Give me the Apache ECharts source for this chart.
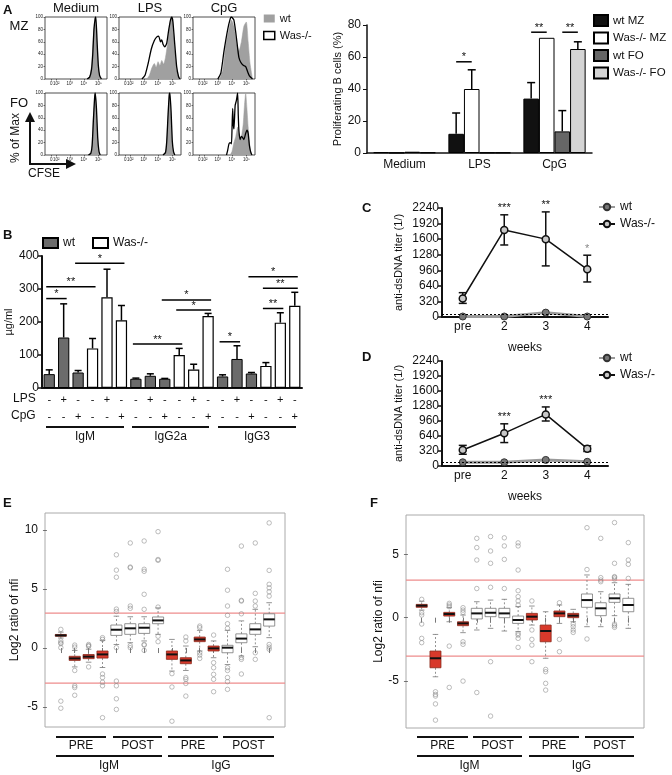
<!DOCTYPE html>
<html><head><meta charset="utf-8">
<script src="https://cdn.jsdelivr.net/npm/echarts@6/dist/echarts.min.js"></script>
<style>html,body{margin:0;padding:0;background:#fff}#c{width:672px;height:775px}</style>
</head><body><div id="c"></div>
<script>
// ---------- Panel A: CFSE histograms ([position %, % of max]) ----------
const histTicks = [10, 18, 40, 63, 86];
const histTickLabels = ['0', '10²', '10³', '10⁴', '10⁵'];
const histCols = ['Medium', 'LPS', 'CpG'];
const histRows = ['MZ', 'FO'];
const medMZ_wt = [[68,0],[72,4],[75,20],[77,50],[79,85],[81,100],[83,80],[85,40],[87,12],[89,3],[91,0]];
const medMZ_ko = [[68,0],[72,3],[75,15],[77,40],[79,80],[81,98],[82,100],[84,60],[86,22],[88,6],[91,0]];
const lpsMZ_wt = [[45,0],[49,6],[53,18],[57,25],[60,19],[63,28],[66,22],[69,30],[72,24],[75,35],[78,55],[81,82],[84,98],[86,100],[88,75],[91,35],[94,10],[97,0]];
const lpsMZ_ko = [[37,0],[42,6],[47,25],[52,48],[57,62],[61,68],[64,69],[67,60],[69,63],[71,56],[74,52],[77,58],[80,78],[83,95],[85,100],[87,92],[90,55],[93,20],[96,4],[98,0]];
const cpgMZ_wt = [[43,0],[48,15],[53,55],[59,85],[62,95],[66,85],[71,55],[74,45],[78,60],[82,85],[86,92],[89,60],[92,25],[96,0]];
const cpgMZ_ko = [[40,0],[45,10],[50,45],[56,80],[60,97],[62,100],[64,98],[66,95],[69,75],[72,50],[74,35],[77,27],[81,22],[85,20],[88,12],[91,5],[96,0]];
const medFO_wt = [[70,0],[74,4],[76,20],[78,60],[80,95],[81,100],[83,70],[85,25],[87,5],[89,0]];
const medFO_ko = [[70,0],[74,3],[76,15],[78,55],[80,92],[81,100],[83,75],[85,28],[87,6],[89,0]];
const lpsFO_wt = [[71,0],[75,5],[77,25],[79,65],[81,95],[82,100],[84,65],[86,20],[88,4],[90,0]];
const lpsFO_ko = [[71,0],[75,4],[77,22],[79,62],[81,97],[82,100],[84,70],[86,22],[88,5],[90,0]];
const cpgFO_wt = [[60,0],[63,6],[66,20],[69,30],[72,45],[74,35],[77,25],[79,35],[81,50],[83,80],[85,100],[87,75],[89,45],[91,20],[93,6],[95,0]];
const cpgFO_ko = [[54,0],[56,8],[58,18],[60,20],[62,18],[63,45],[64,75],[65,50],[66,42],[68,80],[70,88],[72,100],[73,65],[74,40],[76,25],[78,30],[80,28],[82,25],[85,35],[87,40],[89,35],[91,15],[93,5],[95,0]];

// ---------- Panel A: proliferating B cells (%) ----------
const aCats = ['Medium', 'LPS', 'CpG'];
const aWtMZ = [0.5, 12, 34],   aWtMZHi = [0.5, 25, 44];
const aKoMZ = [0.2, 40, 72],   aKoMZHi = [0.2, 52, 72];
const aWtFO = [0.8, 0.3, 13.5], aWtFOHi = [0.8, 0.3, 26.5];
const aKoFO = [0.4, 0.3, 65],  aKoFOHi = [0.4, 0.3, 69.5];
const aSig = [[1, 57, 0, 1], [2, 75.5, 0, 1], [2, 75.5, 2, 3]]; // [category, level, fromBar, toBar]
const aSigText = ['*', '**', '**'];

// ---------- Panel B: Ig secretion (µg/ml) ----------
const bIsotypes = ['IgM', 'IgG2a', 'IgG3'];
const bLps = ['-', '+', '-', '-', '+', '-'];
const bCpg = ['-', '-', '+', '-', '-', '+'];
const igmWt = [42, 153, 47],   igmWtHi = [55, 255, 53];
const igmKo = [120, 275, 205], igmKoHi = [150, 360, 250];
const igg2aWt = [28, 37, 28],  igg2aWtHi = [30, 43, 29];
const igg2aKo = [100, 56, 218], igg2aKoHi = [120, 72, 226];
const igg3Wt = [35, 88, 44],   igg3WtHi = [40, 128, 47];
const igg3Ko = [67, 198, 249], igg3KoHi = [77, 228, 290];
const bSig = [[0, 271, 1], [0, 307, 3], [2, 378, 5], [6, 133, 9], [8, 267, 11], [9, 236, 11], [12, 140, 13], [14, 337, 17], [15, 302, 17], [15, 241, 16]];
const bSigText = ['*', '**', '*', '**', '*', '*', '*', '*', '**', '**'];

// ---------- Panels C, D: anti-dsDNA titer ----------
const weeks = ['pre', '2', '3', '4'];
const cKo = [380, 1790, 1600, 980], cKoLo = [280, 1480, 1050, 720], cKoHi = [500, 2100, 2160, 1270];
const cWt = [10, 10, 90, 10];
const cStars = ['', '***', '**', '*'];
const cDetect = 60;
const dKo = [340, 700, 1100, 370], dKoLo = [250, 500, 960, 310], dKoHi = [440, 900, 1260, 430];
const dWt = [80, 80, 130, 90];
const dStars = ['', '***', '***', ''];
const dDetect = 85;

// ---------- Panels E, F: Log2 ratio of nfi boxplots ----------
const boxPhase = ['PRE','PRE','PRE','PRE','POST','POST','POST','POST','PRE','PRE','PRE','PRE','POST','POST','POST','POST'];
const boxIsotype = ['IgM','IgM','IgM','IgM','IgM','IgM','IgM','IgM','IgG','IgG','IgG','IgG','IgG','IgG','IgG','IgG'];
// [lower whisker, Q1, median, Q3, upper whisker]
const eBoxes = [
  [0.85, 1.0, 1.07, 1.15, 1.35], [-1.6, -1.05, -0.88, -0.7, -0.2], [-1.2, -0.9, -0.73, -0.55, -0.1], [-1.65, -0.85, -0.54, -0.25, 0.65],
  [0.3, 1.07, 1.55, 1.95, 2.7], [0.45, 1.16, 1.67, 2.06, 2.65], [0.6, 1.24, 1.72, 2.06, 2.65], [1.16, 2.06, 2.34, 2.63, 3.4],
  [-1.95, -0.96, -0.54, -0.25, 0.73], [-1.9, -1.33, -1.05, -0.82, 0.17], [-0.25, 0.54, 0.73, 0.93, 1.5], [-0.82, -0.25, -0.03, 0.17, 0.6],
  [-1.4, -0.4, 0.03, 0.23, 1.5], [-0.68, 0.45, 0.8, 1.2, 2.3], [0.11, 1.16, 1.58, 2.06, 3.28], [0.88, 1.86, 2.43, 2.9, 3.84]
];
const eOutliers = [
  [1.58, 0.6, 0.45, 0.37, 0.03, -4.5, -5.1], [0.25, 0.08, -1.9, -3.2, -3.35, -4.0], [0.3, 0.2, 0.15, -1.6], [0.88, 0.73, -2.2, -2.5, -2.9, -3.2, -5.9],
  [7.9, 6.6, 6.0, 3.3, 3.1, 0.03, -2.8, -3.2, -4.3, -5.2], [8.9, 6.86, 6.8, 3.56, 3.36, 0.2, 0.03], [9.07, 6.67, 6.5, 4.55, 3.28, 0.3, 0.25, -0.2], [9.86, 7.5, 7.43, 3.47, 1.0, 0.54],
  [-2.17, -3.3, -6.2], [0.93, 0.6, -2.5, -2.65, -3.0, -4.07], [1.86, 1.72, -0.4, -0.6, -0.88], [1.1, -1.24, -1.67, -2.23, -2.65, -3.7],
  [6.67, 4.9, 3.56, 2.77, 2.06, 1.67, -1.67, -1.9, -2.5, -2.85, -3.5], [8.64, 4.04, 3.98, 2.9, -0.8, -0.96, -2.2], [8.9, 4.63, 3.98, 3.56, -0.4, -0.96], [10.6, 6.58, 5.4, 5.1, 4.77, 4.4, 0.3, 0.08, -0.1, -5.9]
];
const fBoxes = [
  [0.6, 0.82, 0.95, 1.05, 1.3], [-4.66, -3.95, -3.2, -2.63, -1.32], [-0.32, 0.13, 0.29, 0.42, 0.79], [-1.18, -0.63, -0.45, -0.32, 0.21],
  [-0.97, -0.1, 0.34, 0.74, 1.26], [-0.84, 0.08, 0.39, 0.74, 1.39], [-1.05, 0, 0.34, 0.74, 1.45], [-1.1, -0.45, -0.18, 0.13, 0.87],
  [-0.58, -0.18, 0.08, 0.34, 0.92], [-3.2, -1.9, -1.05, -0.58, 0.47], [-0.45, 0.08, 0.34, 0.53, 1.0], [-0.32, 0, 0.16, 0.34, 0.66],
  [-0.71, 0.82, 1.39, 1.87, 3.37], [-0.71, 0.16, 0.74, 1.18, 2.05], [0.16, 1.21, 1.53, 1.87, 2.76], [-0.84, 0.47, 1.0, 1.53, 2.63]
];
const fOutliers = [
  [1.45, 0.39, 0.21, -0.5, -1.63, -1.97], [-5.84, -6.05, -6.18, -6.8, -8.08], [1.13, 1.0, 0.87, -2.24, -5.5], [0.79, 0.6, 0.42, -1.9, -2.1, -5.0],
  [6.26, 5.53, 4.55, 2.3, -5.9], [6.4, 5.26, 4.29, 2.4, -3.47, -7.76], [6.3, 5.66, 4.6, 2.3], [5.9, 5.66, 3.76, 2.13, 1.66, 1.32, 1.0, -1.24, -1.37, -1.63, -2.34],
  [1.32, -0.97, -1.71, -2.16, -3.47], [-4.08, -4.26, -5.18, -5.71], [1.18, -1.71, -2.68], [-0.5, -0.71, -0.97, -1.16],
  [7.1, 3.8, -1.68], [6.26, 3.16, 2.97, 2.84], [7.5, 4.29, 3.24, 3.18, 3.05, -0.5, -0.63, -0.76], [5.92, 4.55, 4.21, 3.1]
];
const cutoffs = [3, -3];

// =====================================================================
const FONT = '"Liberation Sans", Arial, sans-serif';
const option = { animation: false, textStyle: { fontFamily: FONT, color: '#111' }, grid: [], xAxis: [], yAxis: [], series: [], legend: [], graphic: [] };
const stripName = n => n.split('#')[0];
const plain = v => String(v);
const txt = (x, y, t, o) => Object.assign({ type: 'text', x, y, style: Object.assign({ text: t, fill: '#111', font: '12px ' + FONT, align: 'center', verticalAlign: 'middle' }, (o || {}).style || {}) }, o && o.rotation ? { rotation: o.rotation } : {});
const seg = (x1, y1, x2, y2, w) => ({ type: 'line', shape: { x1, y1, x2, y2 }, style: { stroke: '#111', lineWidth: w || 2 } });

// ---- A histograms: grids 0..5
const histData = [[medMZ_wt, medMZ_ko], [lpsMZ_wt, lpsMZ_ko], [cpgMZ_wt, cpgMZ_ko], [medFO_wt, medFO_ko], [lpsFO_wt, lpsFO_ko], [cpgFO_wt, cpgFO_ko]];
histData.forEach((d, i) => {
  const r = Math.floor(i / 3), c = i % 3;
  option.grid.push({ left: [45, 119, 193][c], top: [17, 93][r], width: 62, height: 62, show: true, borderColor: '#222', borderWidth: 0.8 });
  option.xAxis.push({ type: 'value', gridIndex: i, min: 0, max: 100, axisLine: { show: false }, splitLine: { show: false },
    axisTick: { customValues: histTicks, length: 1.5, lineStyle: { color: '#222', width: 0.6 } },
    axisLabel: { customValues: histTicks, formatter: v => histTickLabels[histTicks.indexOf(v)], fontSize: 4.5, margin: 2, color: '#222' } });
  option.yAxis.push({ type: 'value', gridIndex: i, min: 0, max: 100, interval: 20, axisLine: { show: false }, splitLine: { show: false },
    axisTick: { show: true, length: 1.5, lineStyle: { color: '#222', width: 0.6 } }, axisLabel: { fontSize: 4.5, margin: 2, color: '#222' } });
  option.series.push({ type: 'line', name: 'wt#h', xAxisIndex: i, yAxisIndex: i, data: d[0], symbol: 'none', smooth: 0.2,
    lineStyle: { width: 0.5, color: '#a0a0a0' }, itemStyle: { color: '#a0a0a0' }, areaStyle: { color: '#a0a0a0', opacity: 1 }, z: 2 });
  option.series.push({ type: 'line', name: 'Was-/-#h', xAxisIndex: i, yAxisIndex: i, data: d[1], symbol: 'none', smooth: 0.2,
    lineStyle: { width: 1.3, color: '#000' }, itemStyle: { color: '#000' }, z: 3 });
});
option.legend.push({ left: 263, top: 13, orient: 'vertical', padding: 0, itemWidth: 11, itemHeight: 8, itemGap: 6, formatter: stripName,
  textStyle: { fontSize: 11, color: '#111' },
  data: [{ name: 'wt#h', icon: 'rect', itemStyle: { color: '#a0a0a0', borderWidth: 0 } },
         { name: 'Was-/-#h', icon: 'rect', itemStyle: { color: '#fff', borderColor: '#000', borderWidth: 1.5 } }] });

// ---- A bar chart: grid 6
const GA = 6;
option.grid.push({ left: 367, top: 25, width: 225, height: 128 });
option.xAxis.push({ type: 'category', gridIndex: GA, data: aCats, axisLine: { lineStyle: { color: '#111', width: 1.5 } }, axisTick: { show: false },
  axisLabel: { fontSize: 12, margin: 6, color: '#111' } });
option.yAxis.push({ type: 'value', gridIndex: GA, min: 0, max: 80, interval: 20, splitLine: { show: false },
  axisLine: { show: true, lineStyle: { color: '#111', width: 1.5 } }, axisTick: { show: true, length: 4, lineStyle: { color: '#111' } },
  axisLabel: { fontSize: 12, margin: 6, color: '#111' }, name: 'Proliferating B cells (%)', nameLocation: 'middle', nameGap: 22, nameTextStyle: { fontSize: 11, color: '#111' } });
const aSeries = [['wt MZ', aWtMZ, aWtMZHi, '#111'], ['Was-/- MZ', aKoMZ, aKoMZHi, '#fff'], ['wt FO', aWtFO, aWtFOHi, '#666'], ['Was-/- FO', aKoFO, aKoFOHi, '#d4d4d4']];
const aGap = 0.17;
const aOffset = (api, k) => { const band = api.size([1, 0])[0]; const gw = band * (1 - aGap); return -gw / 2 + (k + 0.5) * gw / 4; };
aSeries.forEach((s, k) => {
  option.series.push({ type: 'bar', name: s[0], xAxisIndex: GA, yAxisIndex: GA, data: s[1], barGap: 0, barCategoryGap: (aGap * 100) + '%',
    itemStyle: { color: s[3], borderColor: '#000', borderWidth: 1 }, z: 3 });
  option.series.push({ type: 'custom', xAxisIndex: GA, yAxisIndex: GA, data: s[1].map((v, i) => [i, v, s[2][i]]), z: 2,
    renderItem: (p, api) => {
      const v = api.value(1), hi = api.value(2); if (hi <= v) return null;
      const a = api.coord([api.value(0), v]), b = api.coord([api.value(0), hi]); const x = a[0] + aOffset(api, k);
      return { type: 'group', children: [
        { type: 'line', shape: { x1: x, y1: a[1], x2: x, y2: b[1] }, style: { stroke: '#000', lineWidth: 1.5 } },
        { type: 'line', shape: { x1: x - 4, y1: b[1], x2: x + 4, y2: b[1] }, style: { stroke: '#000', lineWidth: 1.5 } }] };
    } });
});
option.series.push({ type: 'custom', xAxisIndex: GA, yAxisIndex: GA, data: aSig, z: 4,
  renderItem: (p, api) => {
    const c = api.value(0), y = api.value(1); const base = api.coord([c, y]);
    const x1 = base[0] + aOffset(api, api.value(2)), x2 = base[0] + aOffset(api, api.value(3));
    return { type: 'group', children: [
      { type: 'line', shape: { x1, y1: base[1], x2, y2: base[1] }, style: { stroke: '#000', lineWidth: 1.5 } },
      { type: 'text', x: (x1 + x2) / 2, y: base[1] + 1, style: { text: aSigText[p.dataIndex], font: '11px ' + FONT, fill: '#111', align: 'center', verticalAlign: 'bottom' } }] };
  } });
option.legend.push({ left: 593, top: 14, orient: 'vertical', padding: 0, itemWidth: 14, itemHeight: 11, itemGap: 4.5,
  textStyle: { fontSize: 11.5, color: '#111' }, data: aSeries.map(s => ({ name: s[0], icon: 'rect' })) });

// ---- B bar chart: grid 7
const GB = 7;
const bWtAll = [].concat(...[igmWt, igg2aWt, igg3Wt].map(a => [...a, '-', '-', '-']));
const bKoAll = [].concat(...[igmKo, igg2aKo, igg3Ko].map(a => ['-', '-', '-', ...a]));
const bWtHiAll = [].concat(...[igmWtHi, igg2aWtHi, igg3WtHi].map(a => [...a, '-', '-', '-']));
const bKoHiAll = [].concat(...[igmKoHi, igg2aKoHi, igg3KoHi].map(a => ['-', '-', '-', ...a]));
const bLpsAll = [].concat(bLps, bLps, bLps), bCpgAll = [].concat(bCpg, bCpg, bCpg);
option.grid.push({ left: 42, top: 256, width: 260, height: 132 });
option.xAxis.push({ type: 'category', gridIndex: GB, data: bLpsAll.map((_, i) => String(i)),
  axisLine: { lineStyle: { color: '#111', width: 2 } }, axisTick: { alignWithLabel: true, length: 4, lineStyle: { color: '#111', width: 1.5 } },
  axisLabel: { interval: 0, formatter: (v, i) => bLpsAll[i] + '\n' + bCpgAll[i], fontSize: 11, lineHeight: 17, margin: 3, color: '#111' } });
option.yAxis.push({ type: 'value', gridIndex: GB, min: 0, max: 400, interval: 100, splitLine: { show: false },
  axisLine: { show: true, lineStyle: { color: '#111', width: 2 } }, axisTick: { show: true, length: 4, lineStyle: { color: '#111', width: 1.5 } },
  axisLabel: { fontSize: 12, margin: 3, color: '#111', formatter: plain }, name: 'µg/ml', nameLocation: 'middle', nameGap: 28, nameTextStyle: { fontSize: 11, color: '#111' } });
option.series.push({ type: 'bar', name: 'wt#B', xAxisIndex: GB, yAxisIndex: GB, data: bWtAll, barGap: '-100%', barCategoryGap: '22%',
  itemStyle: { color: '#6b6b6b', borderColor: '#000', borderWidth: 1 }, z: 3 });
option.series.push({ type: 'bar', name: 'Was-/-#B', xAxisIndex: GB, yAxisIndex: GB, data: bKoAll, barGap: '-100%', barCategoryGap: '22%',
  itemStyle: { color: '#fff', borderColor: '#000', borderWidth: 1.2 }, z: 3 });
const upperErr = (p, api) => {
  const v = api.value(1), hi = api.value(2); if (!(hi > v)) return null;
  const a = api.coord([api.value(0), v]), b = api.coord([api.value(0), hi]);
  return { type: 'group', children: [
    { type: 'line', shape: { x1: a[0], y1: a[1], x2: a[0], y2: b[1] }, style: { stroke: '#000', lineWidth: 1.5 } },
    { type: 'line', shape: { x1: a[0] - 3.5, y1: b[1], x2: a[0] + 3.5, y2: b[1] }, style: { stroke: '#000', lineWidth: 1.5 } }] };
};
option.series.push({ type: 'custom', xAxisIndex: GB, yAxisIndex: GB, z: 2, renderItem: upperErr,
  data: bWtAll.map((v, i) => v === '-' ? [i, bKoAll[i], bKoHiAll[i]] : [i, v, bWtHiAll[i]]) });
option.series.push({ type: 'custom', xAxisIndex: GB, yAxisIndex: GB, data: bSig, z: 4,
  renderItem: (p, api) => {
    const a = api.coord([api.value(0), api.value(1)]), b = api.coord([api.value(2), api.value(1)]);
    const x1 = a[0] - 3, x2 = b[0] + 3;
    return { type: 'group', children: [
      { type: 'line', shape: { x1, y1: a[1], x2, y2: a[1] }, style: { stroke: '#000', lineWidth: 1.5 } },
      { type: 'text', x: (x1 + x2) / 2, y: a[1] + 1, style: { text: bSigText[p.dataIndex], font: '11px ' + FONT, fill: '#111', align: 'center', verticalAlign: 'bottom' } }] };
  } });
option.legend.push({ left: 42, top: 237, orient: 'horizontal', padding: 0, itemWidth: 15, itemHeight: 10, itemGap: 17, formatter: stripName,
  textStyle: { fontSize: 12, color: '#111' }, data: [{ name: 'wt#B', icon: 'rect' }, { name: 'Was-/-#B', icon: 'rect' }] });

// ---- C, D line charts: grids 8, 9
function titerPanel(gi, top, height, ko, lo, hi, wt, stars, detect, tag, legendTop, starColors) {
  option.grid.push({ left: 442, top, width: 166, height });
  option.xAxis.push({ type: 'category', gridIndex: gi, data: weeks, axisLine: { lineStyle: { color: '#111', width: 2 } },
    axisTick: { alignWithLabel: true, length: 4, lineStyle: { color: '#111', width: 1.5 } }, axisLabel: { fontSize: 12, margin: 4, color: '#111' },
    name: 'weeks', nameLocation: 'middle', nameGap: 25, nameTextStyle: { fontSize: 12, color: '#111' } });
  option.yAxis.push({ type: 'value', gridIndex: gi, min: 0, max: 2240, interval: 320, splitLine: { show: false },
    axisLine: { show: true, lineStyle: { color: '#111', width: 2 } }, axisTick: { show: true, length: 4, lineStyle: { color: '#111', width: 1.5 } },
    axisLabel: { fontSize: 12, margin: 3, color: '#111', formatter: plain }, name: 'anti-dsDNA titer (1/)', nameLocation: 'middle', nameGap: 38, nameTextStyle: { fontSize: 11, color: '#111' } });
  option.series.push({ type: 'line', name: 'wt#' + tag, xAxisIndex: gi, yAxisIndex: gi, data: wt, symbol: 'circle', symbolSize: 7,
    lineStyle: { color: '#9a9a9a', width: 3 }, itemStyle: { color: '#777', borderColor: '#333', borderWidth: 1 }, z: 3,
    markLine: { silent: true, symbol: 'none', label: { show: false }, data: [{ yAxis: detect, lineStyle: { type: [2, 2], color: '#000', width: 1 } }], lineStyle: { type: [2, 2], color: '#000', width: 1 } } });
  option.series.push({ type: 'line', name: 'Was-/-#' + tag, xAxisIndex: gi, yAxisIndex: gi, data: ko, symbol: 'circle', symbolSize: 7,
    lineStyle: { color: '#111', width: 1.5 }, itemStyle: { color: '#c8c8c8', borderColor: '#111', borderWidth: 1.5 }, z: 5 });
  option.series.push({ type: 'custom', xAxisIndex: gi, yAxisIndex: gi, data: ko.map((v, i) => [i, lo[i], hi[i]]), z: 4,
    renderItem: (p, api) => {
      const a = api.coord([api.value(0), api.value(1)]), b = api.coord([api.value(0), api.value(2)]);
      const ch = [
        { type: 'line', shape: { x1: a[0], y1: a[1], x2: a[0], y2: b[1] }, style: { stroke: '#111', lineWidth: 1.5 } },
        { type: 'line', shape: { x1: a[0] - 4, y1: a[1], x2: a[0] + 4, y2: a[1] }, style: { stroke: '#111', lineWidth: 1.5 } },
        { type: 'line', shape: { x1: a[0] - 4, y1: b[1], x2: a[0] + 4, y2: b[1] }, style: { stroke: '#111', lineWidth: 1.5 } }];
      const s = stars[p.dataIndex];
      if (s) ch.push({ type: 'text', x: a[0], y: b[1] - 1, style: { text: s, font: '11px ' + FONT, fill: starColors[p.dataIndex], align: 'center', verticalAlign: 'bottom' } });
      return { type: 'group', children: ch };
    } });
  option.legend.push({ left: 598, top: legendTop, orient: 'vertical', padding: 0, itemWidth: 16, itemHeight: 8, itemGap: 5, formatter: stripName,
    textStyle: { fontSize: 12, color: '#111' }, data: ['wt#' + tag, 'Was-/-#' + tag] });
}
titerPanel(8, 208, 109, cKo, cKoLo, cKoHi, cWt, cStars, cDetect, 'C', 201, ['#111', '#111', '#111', '#888']);
titerPanel(9, 361, 105, dKo, dKoLo, dKoHi, dWt, dStars, dDetect, 'D', 352, ['#111', '#111', '#111', '#111']);

// ---- E, F boxplots: grids 10, 11
const X_MIN = -0.14, X_MAX = 17.14;
function boxRender(p, api) {
  const x = api.value(0), red = api.value(6) === 1;
  const pl = api.coord([x, api.value(1)]), p1 = api.coord([x, api.value(2)]), pm = api.coord([x, api.value(3)]),
        p3 = api.coord([x, api.value(4)]), ph = api.coord([x, api.value(5)]);
  const w = api.size([0.8, 0])[0], cx = pl[0], hw = w / 2, cw = w / 4;
  const ws = { stroke: '#777', lineWidth: 0.8, lineDash: [2, 2] }, cs = { stroke: '#777', lineWidth: 0.8 };
  return { type: 'group', children: [
    { type: 'line', shape: { x1: cx, y1: p3[1], x2: cx, y2: ph[1] }, style: ws },
    { type: 'line', shape: { x1: cx, y1: p1[1], x2: cx, y2: pl[1] }, style: ws },
    { type: 'line', shape: { x1: cx - cw, y1: ph[1], x2: cx + cw, y2: ph[1] }, style: cs },
    { type: 'line', shape: { x1: cx - cw, y1: pl[1], x2: cx + cw, y2: pl[1] }, style: cs },
    { type: 'rect', shape: { x: cx - hw, y: p3[1], width: w, height: Math.max(p1[1] - p3[1], 1) }, style: { fill: red ? '#d8392b' : '#fff', stroke: red ? '#8a2a1c' : '#777', lineWidth: 0.8 } },
    { type: 'line', shape: { x1: cx - hw, y1: pm[1], x2: cx + hw, y2: pm[1] }, style: { stroke: '#111', lineWidth: 2 } }] };
}
function cutRender(p, api) {
  const a = api.coord([X_MIN, api.value(0)]), b = api.coord([X_MAX, api.value(0)]);
  const y = Math.round(a[1]);
  return { type: 'rect', shape: { x: a[0], y: y - 0.5, width: b[0] - a[0], height: 1.2 }, style: { fill: '#ee8c8c' } };
}
function boxPanel(gi, left, top, width, height, ymin, ymax, yLabels, nameGap, boxes, outliers) {
  const pos = boxes.map((_, i) => i + 1);
  option.grid.push({ left, top, width, height, show: true, borderColor: '#aaa', borderWidth: 1 });
  option.xAxis.push({ type: 'value', gridIndex: gi, min: X_MIN, max: X_MAX, axisLine: { show: false }, splitLine: { show: false },
    axisTick: { show: true, customValues: pos, length: 5, lineStyle: { color: '#555', width: 0.8 } }, axisLabel: { show: false } });
  option.yAxis.push({ type: 'value', gridIndex: gi, min: ymin, max: ymax, splitLine: { show: false }, axisLine: { show: false },
    axisTick: { show: true, customValues: yLabels, length: 4, lineStyle: { color: '#555', width: 0.8 } },
    axisLabel: { customValues: yLabels, fontSize: 12, margin: 7, color: '#111' },
    name: 'Log2 ratio of nfi', nameLocation: 'middle', nameGap, nameTextStyle: { fontSize: 12, color: '#111' } });
  option.series.push({ type: 'custom', xAxisIndex: gi, yAxisIndex: gi, z: 1, silent: true, renderItem: cutRender,
    encode: { y: 0 }, data: cutoffs.map(c => [c]) });
  option.series.push({ type: 'custom', xAxisIndex: gi, yAxisIndex: gi, z: 3, renderItem: boxRender,
    data: boxes.map((b, i) => [i + 1, ...b, boxPhase[i] === 'PRE' ? 1 : 0]) });
  option.series.push({ type: 'scatter', xAxisIndex: gi, yAxisIndex: gi, z: 2, symbol: 'circle', symbolSize: 4.5,
    itemStyle: { color: 'rgba(255,255,255,0)', borderColor: '#888', borderWidth: 0.7 },
    data: [].concat(...outliers.map((arr, i) => arr.map(v => [i + 1, v]))) });
}
boxPanel(10, 45, 513, 240, 214, -6.69, 11.44, [-5, 0, 5, 10], 24, eBoxes, eOutliers);
boxPanel(11, 406, 515, 238, 213, -8.7, 8.1, [-5, 0, 5], 21, fBoxes, fOutliers);

// ---------- annotations ----------
const G = option.graphic;
const bold = t => ({ style: { font: 'bold 13px ' + FONT, align: 'left' } });
[['A', 3, 10], ['B', 3, 235], ['C', 362, 208], ['D', 362, 357], ['E', 3, 503], ['F', 370, 503]].forEach(a => G.push(txt(a[1], a[2], a[0], bold())));
histCols.forEach((t, c) => G.push(txt([76, 150, 224][c], 8, t, { style: { font: '13px ' + FONT } })));
histRows.forEach((t, r) => G.push(txt(19, [26, 103][r], t, { style: { font: '13px ' + FONT } })));
G.push(txt(16, 138, '% of Max', { rotation: Math.PI / 2, style: { font: '12px ' + FONT } }));
G.push(seg(30, 164, 30, 120, 2), { type: 'polygon', shape: { points: [[25, 122], [35, 122], [30, 112]] }, style: { fill: '#111' } });
G.push(seg(29, 164, 68, 164, 2), { type: 'polygon', shape: { points: [[66, 159], [66, 169], [76, 164]] }, style: { fill: '#111' } });
G.push(txt(44, 174, 'CFSE', { style: { font: '12px ' + FONT } }));
// B row labels and isotype brackets
G.push(txt(13, 399, 'LPS', { style: { align: 'left' } }), txt(11, 416, 'CpG', { style: { align: 'left' } }));
[[46, 124], [132, 209], [218, 296]].forEach((s, i) => { G.push(seg(s[0], 427, s[1], 427, 2)); G.push(txt((s[0] + s[1]) / 2, 437, bIsotypes[i])); });
// E/F group brackets
function brackets(segs, big) {
  segs.forEach((s, i) => { G.push(seg(s[0], 737, s[1], 737, 2)); G.push(txt((s[0] + s[1]) / 2, 746, boxPhase[i * 4])); });
  big.forEach((s, i) => { G.push(seg(s[0], 756, s[1], 756, 2)); G.push(txt((s[0] + s[1]) / 2, 766, boxIsotype[i * 8])); });
}
brackets([[56, 106], [113, 162], [168, 218], [223, 274]], [[56, 162], [168, 274]]);
brackets([[417, 468], [473, 522], [529, 579], [585, 634]], [[417, 522], [529, 634]]);

const chart = echarts.init(document.getElementById('c'), null, { renderer: 'canvas' });
chart.setOption(option);
</script></body></html>
